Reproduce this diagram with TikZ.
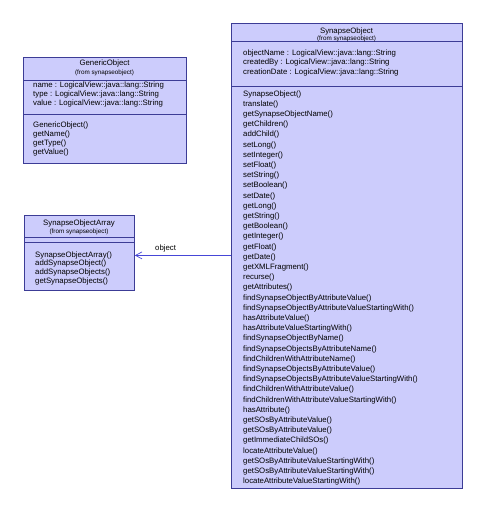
\documentclass[tikz,border=0pt]{standalone}
\usepackage{fontspec}
\setmainfont{Liberation Sans}
\usetikzlibrary{arrows.meta}
\definecolor{boxfill}{RGB}{204,204,252}
\definecolor{boxline}{RGB}{60,60,150}
\definecolor{assoc}{RGB}{70,70,215}
\tikzset{
  umlbox/.style={draw=boxline, fill=boxfill, line width=0.8bp},
  divider/.style={draw=boxline, line width=0.8bp},
  mtext/.style={anchor=west, inner sep=0pt, font=\fontsize{7.8bp}{9bp}\selectfont},
  ctitle/.style={anchor=center, inner sep=0pt, font=\fontsize{7.8bp}{9bp}\selectfont},
  cfrom/.style={anchor=center, inner sep=0pt, font=\fontsize{6.3bp}{8bp}\selectfont},
  assocline/.style={draw=assoc, line width=0.8bp, -{Straight Barb[length=6.5bp,width=7bp,line width=0.7bp]}},
}
\begin{document}
\begin{tikzpicture}[x=1bp,y=-1bp]
\useasboundingbox (0,0) rectangle (486,507);

% ---------- GenericObject ----------
\node[umlbox, rectangle, minimum width=163bp, minimum height=106bp, anchor=north west, inner sep=0pt] (go) at (23,57) {};
\draw[divider] (23,80.7) -- (186,80.7);
\draw[divider] (23,114) -- (186,114);
\node[ctitle] (go-t) at (104.5,63.5) {GenericObject};
\node[cfrom] (go-f) at (104.5,73.3) {(from synapseobject)};
\node[mtext] (go-a1) at (33,85) {name : LogicalView::java::lang::String};
\node[mtext] (go-a2) at (33,94) {type : LogicalView::java::lang::String};
\node[mtext] (go-a3) at (33,103.5) {value : LogicalView::java::lang::String};
\foreach [count=\i] \t in {GenericObject(), getName(), getType(), getValue()}
  \node[mtext] (go-m\i) at (33,{125+9*(\i-1)}) {\t};

% ---------- SynapseObjectArray ----------
\node[umlbox, rectangle, minimum width=110bp, minimum height=75bp, anchor=north west, inner sep=0pt] (soa) at (24,215) {};
\draw[divider] (24,237) -- (134,237);
\draw[divider] (24,242) -- (134,242);
\node[ctitle] (soa-t) at (79,223.3) {SynapseObjectArray};
\node[cfrom] (soa-f) at (79,231.5) {(from synapseobject)};
\foreach [count=\i] \t in {SynapseObjectArray(), addSynapseObject(), addSynapseObjects(), getSynapseObjects()}
  \node[mtext] (soa-m\i) at (35,{255+8.8*(\i-1)}) {\t};

% ---------- SynapseObject ----------
\node[umlbox, rectangle, minimum width=231bp, minimum height=465bp, anchor=north west, inner sep=0pt] (so) at (231,23) {};
\draw[divider] (231,41.3) -- (462,41.3);
\draw[divider] (231,86.7) -- (462,86.7);
\node[ctitle] (so-t) at (346.5,31.3) {SynapseObject};
\node[cfrom] (so-f) at (346.5,38.8) {(from synapseobject)};
\node[mtext] (so-a1) at (243,53) {objectName : LogicalView::java::lang::String};
\node[mtext] (so-a2) at (243,62.8) {createdBy : LogicalView::java::lang::String};
\node[mtext] (so-a3) at (243,72.6) {creationDate : LogicalView::java::lang::String};
\foreach [count=\i] \t in {SynapseObject(), translate(), getSynapseObjectName(), getChildren(), addChild(),
  setLong(), setInteger(), setFloat(), setString(), setBoolean(), setDate(), getLong(), getString(),
  getBoolean(), getInteger(), getFloat(), getDate(), getXMLFragment(), recurse(), getAttributes(),
  findSynapseObjectByAttributeValue(), findSynapseObjectByAttributeValueStartingWith(),
  hasAttributeValue(), hasAttributeValueStartingWith(), findSynapseObjectByName(),
  findSynapseObjectsByAttributeName(), findChildrenWithAttributeName(),
  findSynapseObjectsByAttributeValue(), findSynapseObjectsByAttributeValueStartingWith(),
  findChildrenWithAttributeValue(), findChildrenWithAttributeValueStartingWith(), hasAttribute(),
  getSOsByAttributeValue(), getSOsByAttributeValue(), getImmediateChildSOs(), locateAttributeValue(),
  getSOsByAttributeValueStartingWith(), getSOsByAttributeValueStartingWith(),
  locateAttributeValueStartingWith()}
  \node[mtext] (so-m\i) at (243,{94+10.2*(\i-1)}) {\t};

% ---------- association ----------
\draw[assocline] ([yshift=-2.5bp]so.west |- soa.east) -- node[pos=0.68, above=3bp, inner sep=0pt, font=\fontsize{7.8bp}{9bp}\selectfont] (lbl) {object} ([yshift=-2.5bp]soa.east);
\end{tikzpicture}
\end{document}
